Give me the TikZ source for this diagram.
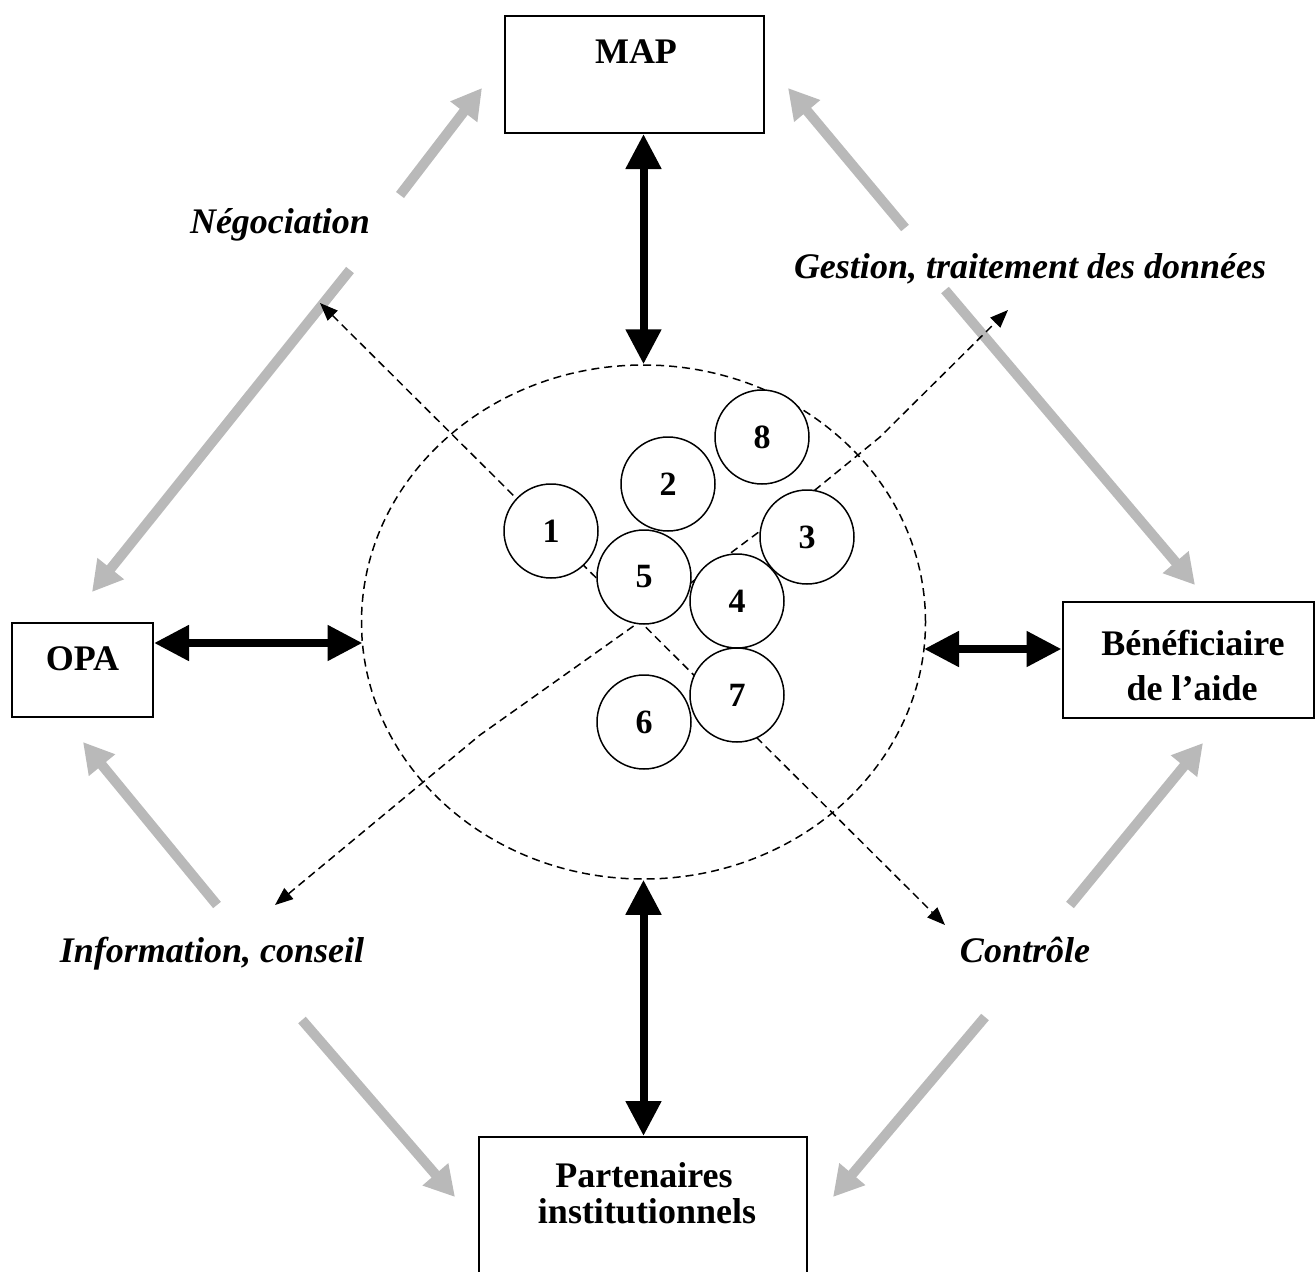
\documentclass[tikz,border=0pt]{standalone}
\usepackage{fontspec}
\setmainfont{Liberation Serif}
\usetikzlibrary{arrows.meta,shapes.geometric}

\begin{document}
\begin{tikzpicture}[x=1pt,y=-1pt,
  box/.style={draw, line width=2pt, inner sep=0pt},
  boxtext/.style={font=\fontsize{36}{40}\selectfont\bfseries, anchor=base, inner sep=0pt},
  tag/.style={font=\fontsize{36}{40}\selectfont\bfseries\itshape, anchor=base, inner sep=0pt},
  ball/.style={draw, circle, line width=1.5pt, fill=white, minimum size=94pt, inner sep=0pt,
               font=\fontsize{34}{36}\selectfont\bfseries},
  link/.style={line width=8pt, {Triangle[length=35pt,width=34pt]}-{Triangle[length=35pt,width=34pt]}},
  flow/.style={draw=gray!55, line width=10pt, -{Triangle[length=30pt,width=32pt]}},
  dashline/.style={line width=1.5pt, dash pattern=on 8pt off 5pt},
  dbl/.style={{Triangle[length=18pt,width=14pt]}-{Triangle[length=18pt,width=14pt]}},
]
\useasboundingbox (0,0) rectangle (1315,1272);
\clip (0,0) rectangle (1315,1272);

% outer actors
\node[box, minimum width=259pt, minimum height=117pt] (map) at (634.5,74.5) {};
\node[boxtext] (maptxt) at (636,63) {MAP};

\node[box, minimum width=141pt, minimum height=94pt] (opa) at (82.5,670) {};
\node[boxtext] (opatxt) at (82.5,670) {OPA};

\node[box, minimum width=251pt, minimum height=116pt] (benef) at (1188,660) {};
\node[boxtext] (beneftxtA) at (1193,655) {Bénéficiaire};
\node[boxtext] (beneftxtB) at (1192,700) {de l’aide};

\node[box, minimum width=328pt, minimum height=160pt] (partners) at (643,1217) {};
\node[boxtext] (parttxtA) at (644,1187) {Partenaires};
\node[boxtext] (parttxtB) at (647,1223) {institutionnels};

% central zone
\node[draw, ellipse, dashline, minimum width=564pt, minimum height=514pt, inner sep=0pt] (hub) at (643.5,622) {};

% double links between the zone and the actors
\coordinate (hubL) at (362.5,643);
\coordinate (hubR) at (924,649);
\draw[link] (map.south -| hub.north) -- (hub.north);
\draw[link] (hub.south) -- (partners.north -| hub.south);
\draw[link] (opa.east |- hubL) -- (hubL);
\draw[link] (hubR) -- (benef.west |- hubR);

% grey exchange arrows between actors
\coordinate (g1a) at (400,195);  \coordinate (g1b) at (482,88);
\coordinate (g2a) at (350,270);  \coordinate (g2b) at (92,592);
\coordinate (g3a) at (905,228);  \coordinate (g3b) at (788,88);
\coordinate (g4a) at (945,290);  \coordinate (g4b) at (1195,585);
\coordinate (g5a) at (217,905);  \coordinate (g5b) at (83,742);
\coordinate (g6a) at (302,1020); \coordinate (g6b) at (455,1197);
\coordinate (g7a) at (985,1017); \coordinate (g7b) at (833,1197);
\coordinate (g8a) at (1070,905); \coordinate (g8b) at (1203,743);
\foreach \k in {1,...,8} { \draw[flow] (g\k a) -- (g\k b); }

% functions
\node[tag] (neg) at (280,233) {Négociation};
\node[tag] (gest) at (1030,278) {Gestion, traitement des données};
\node[tag] (info) at (212,962) {Information, conseil};
\node[tag] (ctrl) at (1025,962) {Contrôle};

% dashed axes through the zone
\coordinate (negtip) at (320,303);
\coordinate (ctrltip) at (945,925);
\coordinate (infotip) at (275,905);
\coordinate (gesttip) at (1008,310);
\draw[dashline, dbl] (negtip) -- (ctrltip);
\draw[dashline, dbl] (infotip) -- (480,735) -- (635,625) -- (732,552) -- (815,490) -- (880,437) -- (gesttip);

% numbered elements
\node[ball] (c1) at (551,531) {1};
\node[ball] (c2) at (668,484) {2};
\node[ball] (c3) at (807,537) {3};
\node[ball] (c4) at (737,601) {4};
\node[ball] (c5) at (644,577) {5};
\node[ball] (c6) at (644,722) {6};
\node[ball] (c7) at (737,695) {7};
\node[ball] (c8) at (762,437) {8};
\end{tikzpicture}
\end{document}
